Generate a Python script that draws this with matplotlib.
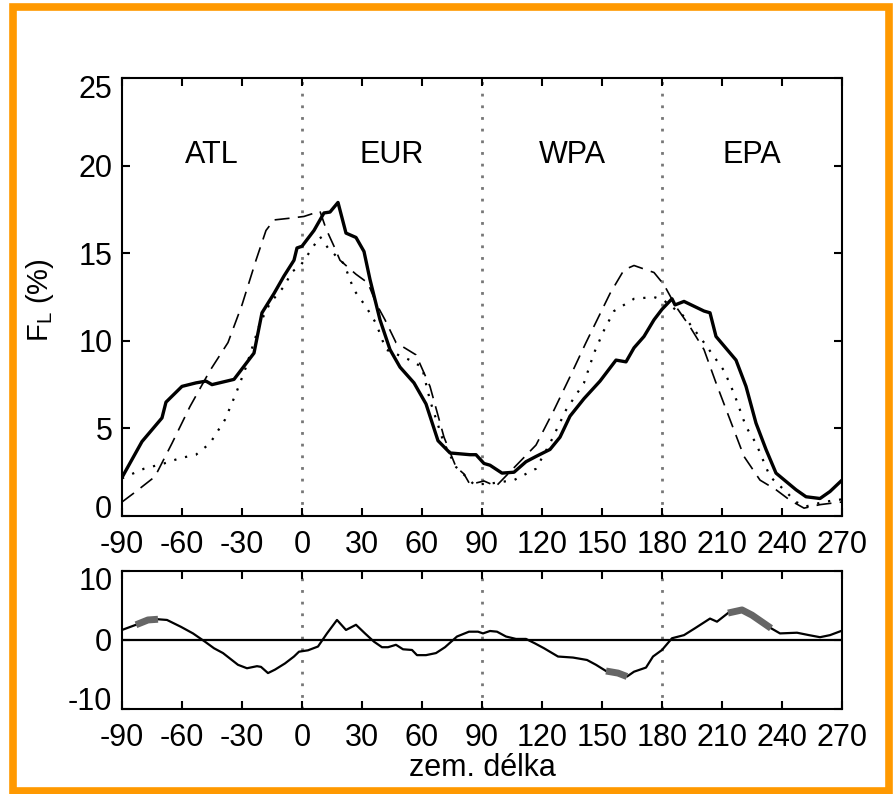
import numpy as np
import matplotlib
matplotlib.use("Agg")
import matplotlib.pyplot as plt
import matplotlib.transforms as mtransforms
from matplotlib.patches import Rectangle

plt.rcParams['font.family'] = ['Liberation Sans', 'DejaVu Sans']
plt.rcParams['mathtext.default'] = 'regular'
plt.rcParams['axes.unicode_minus'] = False

# main panel: F_L (%) vs longitude, three series
lon_solid = [-90, -80, -70, -68, -60, -53, -48, -45, -34, -28, -24, -20, -14, -9, -4, -2.5, 0,
             6, 11, 14, 18, 22, 27, 31, 34, 39, 44, 49, 56, 62, 68, 74, 84, 87, 91, 94, 100,
             106, 112, 117, 124, 129, 134, 141, 149, 157, 162, 166, 171, 176, 180, 185, 186.5,
             191, 201, 204, 207, 217, 222, 227, 232, 237, 247, 252, 259, 264, 270]
val_solid = [2.2, 4.25, 5.6, 6.5, 7.4, 7.6, 7.7, 7.5, 7.8, 8.7, 9.3, 11.6, 12.7, 13.7, 14.6, 15.3, 15.4,
             16.3, 17.3, 17.35, 17.9, 16.15, 15.9, 15.1, 13.5, 11.2, 9.5, 8.5, 7.6, 6.4, 4.3, 3.6, 3.5, 3.5, 3.0, 2.9, 2.45,
             2.5, 3.1, 3.4, 3.8, 4.5, 5.7, 6.7, 7.7, 8.9, 8.8, 9.6, 10.25, 11.2, 11.8, 12.4, 12.05,
             12.25, 11.7, 11.6, 10.25, 8.9, 7.4, 5.3, 3.8, 2.45, 1.5, 1.1, 1.0, 1.4, 2.05]

lon_dash = [-90, -83, -73.5, -65, -56, -46, -37, -30, -23, -18, -14, -6, 1, 9, 12, 16, 19, 27, 33, 37,
            41.5, 47, 57, 64, 71, 77, 81, 84, 91, 97, 117, 126, 134, 142, 151, 154, 161, 166, 176,
            181, 187, 194, 201, 207, 214, 221, 229, 237, 244, 251, 259, 266, 270]
val_dash = [0.8, 1.4, 2.25, 4.15, 6.25, 8.3, 9.9, 12.05, 14.6, 16.3, 16.9, 17.0, 17.1, 17.4, 16.4, 15.4, 14.6, 13.8, 13.3, 12.15,
            11.2, 9.9, 9.2, 7.4, 4.5, 2.8, 2.4, 1.8, 2.0, 1.7, 4.05, 6.05, 7.95, 9.9, 12.0, 12.7, 14.05, 14.3, 13.9,
            13.2, 11.95, 10.8, 9.5, 7.6, 5.5, 3.4, 2.05, 1.5, 0.9, 0.45, 0.65, 0.75, 0.8]

lon_dot = [-90, -79, -69, -61, -53, -46, -38.5, -33, -28, -21, -16, -9, -5, -1, 4, 9, 13, 21, 26, 32,
           37, 42, 54, 60, 64, 71, 77, 82, 86, 94, 106, 117, 124, 132, 141, 146, 151, 156, 166, 176,
           181, 191, 201, 206, 211, 216, 222, 227, 234, 241, 247, 252, 259, 266, 270]
val_dot = [2.15, 2.7, 3.0, 3.3, 3.5, 4.15, 5.5, 7.0, 8.5, 11.0, 12.15, 13.1, 13.95, 14.25, 15.1, 15.95, 15.3, 14.4, 12.9, 11.95,
           11.0, 9.5, 8.9, 8.5, 6.6, 4.15, 2.8, 2.25, 1.8, 1.85, 2.05, 2.7, 4.15, 6.05, 7.6, 9.3, 10.6, 11.7, 12.4, 12.5,
           12.3, 11.4, 9.9, 9.1, 8.3, 7.0, 5.1, 4.15, 2.25, 1.5, 0.8, 0.55, 0.75, 0.9, 0.95]

# lower panel: difference curve
lon_diff = [-90, -83, -77, -72, -67.5, -60.5, -54.5, -48.5, -44, -39.5, -32, -27.5, -22.5, -20.5, -17,
            -13.5, -8.5, -4, -1.5, 3, 8, 12.5, 17.5, 22, 27, 31.5, 36, 40, 43, 47, 50.5, 55, 57.5,
            62, 67, 71.5, 77.5, 83.5, 88, 90.5, 94, 97.5, 102, 107, 112, 116.5, 121, 128, 135.5,
            142.5, 147, 152, 158, 162.5, 166, 172, 175.5, 180, 185, 191, 196.5, 204, 207.5, 213,
            220, 225, 231, 234.5, 239, 247.5, 253.5, 259, 264, 270]
val_diff = [1.45, 2.2, 2.9, 3.0, 2.9, 1.9, 0.95, -0.25, -1.2, -1.9, -3.6, -4.1, -3.8, -3.9, -4.8,
            -4.3, -3.4, -2.4, -1.7, -1.5, -0.95, 0.95, 2.9, 1.45, 2.2, 0.95, -0.25, -1.05, -1.05, -0.7, -1.35, -1.45, -2.2,
            -2.2, -1.9, -1.05, 0.5, 1.2, 1.2, 0.95, 1.3, 1.2, 0.5, 0.15, 0.15, -0.5, -1.2, -2.4, -2.55,
            -2.9, -3.6, -4.5, -4.8, -5.3, -4.6, -4.0, -2.4, -1.45, 0.25, 0.7, 1.7, 3.1, 2.65, 3.9,
            4.35, 3.6, 2.4, 1.7, 0.95, 1.05, 0.7, 0.4, 0.7, 1.35]
# longitude ranges drawn as thick grey segments
highlight = [(-84, -68), (150, 163), (212, 234.5)]

regions = ['ATL', 'EUR', 'WPA', 'EPA']
region_lon = [-45, 45, 135, 225]
sectors = [0, 90, 180]
xticks = list(range(-90, 271, 30))

fig = plt.figure(figsize=(8.93, 7.94), dpi=100)

ax1 = fig.add_axes([0.1366, 0.3501, 0.8063, 0.5516])
ax2 = fig.add_axes([0.1366, 0.1071, 0.8063, 0.1738])

for ax in (ax1, ax2):
    for s in sectors:
        ax.axvline(s, color='#777777', lw=2, ls=(0, (1, 3.2)), zorder=1)

ax1.plot(lon_solid, val_solid, color='black', lw=2.4, zorder=4)
ax1.plot(lon_dash, val_dash, color='black', lw=1.2, ls=(0, (9, 5)), zorder=3)
ax1.plot(lon_dot, val_dot, color='black', lw=1.6, ls=(0, (1, 4)), zorder=3)

for name, x in zip(regions, region_lon):
    ax1.text(x, 20.6, name, ha='center', va='center', fontsize=22)

ax1.set_xlim(-90, 270)
ax1.set_ylim(0, 25)
ax1.set_xticks(xticks)
ax1.set_yticks([0, 5, 10, 15, 20, 25])

ld = np.array(lon_diff)
vd = np.array(val_diff)
ax2.axhline(0, color='black', lw=1.6, zorder=2)
ax2.plot(ld, vd, color='black', lw=1.6, zorder=3)
for a, b in highlight:
    m = (ld >= a) & (ld <= b)
    ax2.plot(ld[m], vd[m], color='#666666', lw=5, solid_capstyle='butt', zorder=4)

ax2.set_xlim(-90, 270)
ax2.set_ylim(-10, 10)
ax2.set_xticks(xticks)
ax2.set_yticks([-10, 0, 10])
ax2.set_xlabel('zem. délka', fontsize=22, labelpad=0)

for ax in (ax1, ax2):
    ax.tick_params(direction='in', length=6, width=1.5, top=True, right=True,
                   labelsize=22)
    ax.tick_params(axis='x', pad=10)
    ax.tick_params(axis='y', pad=7)
    for sp in ax.spines.values():
        sp.set_linewidth(1.5)

# end labels of the y axes sit a little inside the frame, as in the original
for ax in (ax1, ax2):
    labels = ax.get_yticklabels()
    up = mtransforms.ScaledTranslation(0, 10 / 100, fig.dpi_scale_trans)
    down = mtransforms.ScaledTranslation(0, -8 / 100, fig.dpi_scale_trans)
    labels[0].set_transform(labels[0].get_transform() + up)
    labels[-1].set_transform(labels[-1].get_transform() + down)

fig.text(40 / 893, 1 - 300 / 794, r'$F_L$ (%)', rotation=90, ha='center', va='center', fontsize=21)

fig.patches.append(Rectangle((13 / 893, 3 / 794), 876 / 893, 784 / 794, transform=fig.transFigure,
                             fill=False, edgecolor='#FF9900', lw=5.5))

fig.savefig('out.png', dpi=100)
